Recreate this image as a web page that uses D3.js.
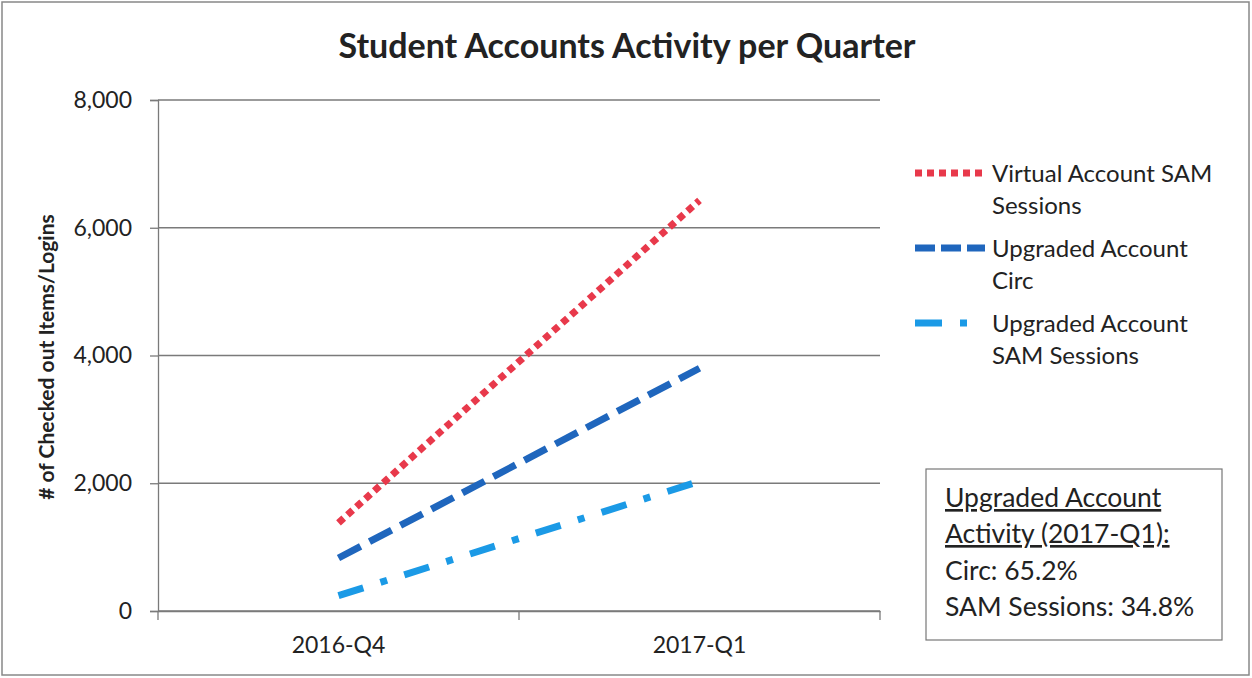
<!DOCTYPE html>
<html>
<head>
<meta charset="utf-8">
<script src="https://cdn.jsdelivr.net/npm/d3@7"></script>
<style>
  body { margin: 0; background: #fff; }
  svg { display: block; font-family: Lato, "Open Sans", sans-serif; }
</style>
</head>
<body>
<svg width="1252" height="678"></svg>
<script>
// Data
var quarters = ["2016-Q4", "2017-Q1"];
var virtualSam = [1380, 6430];
var upgradedCirc = [830, 3800];
var upgradedSam = [240, 2030];
var yTicks = [0, 2000, 4000, 6000, 8000];
var boxLines = ["Circ: 65.2%", "SAM Sessions: 34.8%"];

var seriesList = [
    { name: ["Virtual Account SAM", "Sessions"], values: virtualSam, color: "#e8394b", dash: "7,5", legendDash: "7,5" },
    { name: ["Upgraded Account", "Circ"], values: upgradedCirc, color: "#1f66bd", dash: "25,10", legendDash: "20,6" },
    { name: ["Upgraded Account", "SAM Sessions"], values: upgradedSam, color: "#1b9ae6", dash: "26,18,7,18", legendDash: "27,18,7,30" }
];

var svg = d3.select("svg");

// outer frame
svg.append("rect")
    .attr("x", 2).attr("y", 2).attr("width", 1247).attr("height", 673)
    .attr("fill", "none").attr("stroke", "#888").attr("stroke-width", 1.5);

var plotLeft = 158, plotRight = 880, plotTop = 100, plotBottom = 611;

var x = d3.scaleBand().domain(quarters).range([plotLeft, plotRight]);
var y = d3.scaleLinear().domain([0, 8000]).range([plotBottom, plotTop]);

// gridlines
svg.append("g").selectAll("line").data(yTicks).enter().append("line")
    .attr("x1", plotLeft).attr("x2", plotRight)
    .attr("y1", function(d) { return y(d); })
    .attr("y2", function(d) { return y(d); })
    .attr("stroke", "#7a7a7a").attr("stroke-width", 1.3);

// y axis
var yAxis = svg.append("g")
    .attr("transform", "translate(" + plotLeft + ",0)")
    .call(d3.axisLeft(y).tickValues(yTicks).tickSize(8).tickPadding(18).tickFormat(d3.format(",")));
yAxis.selectAll("text").attr("font-size", 23).attr("fill", "#222").attr("font-family", "Lato, sans-serif");
yAxis.selectAll("line, path").attr("stroke", "#7a7a7a").attr("stroke-width", 1.3);

// x axis (ticks at category boundaries)
var xAxis = svg.append("g")
    .attr("transform", "translate(0," + plotBottom + ")")
    .call(d3.axisBottom(x).tickSize(0).tickPadding(26));
xAxis.select(".domain").attr("stroke", "#7a7a7a").attr("stroke-width", 1.3);
xAxis.selectAll("text").attr("font-size", 23).attr("fill", "#222").attr("font-family", "Lato, sans-serif");
var bounds = [plotLeft].concat(quarters.map(function(q) { return x(q) + x.bandwidth(); }));
xAxis.selectAll(".bound").data(bounds).enter().append("line")
    .attr("x1", function(d) { return d; }).attr("x2", function(d) { return d; })
    .attr("y1", 0).attr("y2", 9)
    .attr("stroke", "#7a7a7a").attr("stroke-width", 1.3);

// lines
var line = d3.line()
    .x(function(d, i) { return x(quarters[i]) + x.bandwidth() / 2; })
    .y(function(d) { return y(d); });

svg.append("g").selectAll("path").data(seriesList).enter().append("path")
    .attr("d", function(s) { return line(s.values); })
    .attr("fill", "none")
    .attr("stroke", function(s) { return s.color; })
    .attr("stroke-width", 7)
    .attr("stroke-dasharray", function(s) { return s.dash; });

// title
svg.append("text")
    .attr("x", 627).attr("y", 58)
    .attr("text-anchor", "middle")
    .attr("font-size", 34).attr("font-weight", "bold").attr("fill", "#222")
    .text("Student Accounts Activity per Quarter");

// y label
svg.append("text")
    .attr("transform", "translate(54,357) rotate(-90)")
    .attr("text-anchor", "middle")
    .attr("font-size", 21).attr("font-weight", "bold").attr("fill", "#222")
    .text("# of Checked out Items/Logins");

// legend
var legend = svg.append("g").selectAll("g").data(seriesList).enter().append("g")
    .attr("transform", function(d, i) { return "translate(915," + (173 + i * 75) + ")"; });
legend.append("line")
    .attr("x1", 0).attr("x2", 70).attr("y1", 0).attr("y2", 0)
    .attr("stroke", function(s) { return s.color; })
    .attr("stroke-width", 7)
    .attr("stroke-dasharray", function(s) { return s.legendDash; });
legend.each(function(s) {
    var g = d3.select(this);
    s.name.forEach(function(t, j) {
        g.append("text")
            .attr("x", 77).attr("y", 9 + j * 32)
            .attr("font-size", 24).attr("fill", "#222")
            .text(t);
    });
});

// annotation box
var box = svg.append("g").attr("transform", "translate(926,469)");
box.append("rect")
    .attr("width", 296).attr("height", 171)
    .attr("fill", "#fff").attr("stroke", "#777").attr("stroke-width", 1.2);
box.append("text").attr("x", 19).attr("y", 38)
    .attr("font-size", 26.5).attr("fill", "#222").attr("text-decoration", "underline")
    .text("Upgraded Account");
box.append("text").attr("x", 19).attr("y", 74)
    .attr("font-size", 26.5).attr("fill", "#222").attr("text-decoration", "underline")
    .text("Activity (2017-Q1):");
box.selectAll(".ln").data(boxLines).enter().append("text")
    .attr("x", 19).attr("y", function(d, i) { return 111 + i * 36; })
    .attr("font-size", 26.5).attr("fill", "#222")
    .text(function(d) { return d; });
</script>
</body>
</html>
